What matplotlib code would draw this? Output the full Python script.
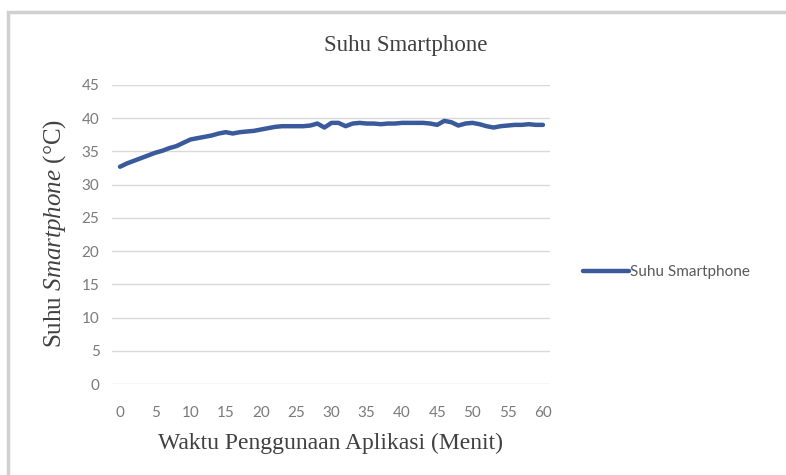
import matplotlib
matplotlib.use("Agg")
import matplotlib.pyplot as plt
from matplotlib.patches import Rectangle

# Data: suhu smartphone per menit
menit = list(range(0, 61))
suhu = [32.7, 33.2, 33.6, 34.0, 34.4, 34.8, 35.1, 35.5, 35.8, 36.3,
        36.8, 37.0, 37.2, 37.4, 37.7, 37.9, 37.7, 37.9, 38.0, 38.1,
        38.3, 38.5, 38.7, 38.8, 38.8, 38.8, 38.8, 38.9, 39.2, 38.6,
        39.3, 39.3, 38.8, 39.2, 39.3, 39.2, 39.2, 39.1, 39.2, 39.2,
        39.3, 39.3, 39.3, 39.3, 39.2, 39.0, 39.6, 39.4, 38.9, 39.2,
        39.3, 39.1, 38.8, 38.6, 38.8, 38.9, 39.0, 39.0, 39.1, 39.0,
        39.0]
x_ticks = list(range(0, 61, 5))
y_ticks = list(range(0, 46, 5))

SERIF = "Liberation Serif"
SANS = "Lato"
plt.rcParams["mathtext.fontset"] = "custom"
plt.rcParams["mathtext.rm"] = "Liberation Serif"
plt.rcParams["mathtext.it"] = "Liberation Serif:italic"

W, H = 786, 475
fig = plt.figure(figsize=(W / 100, H / 100), dpi=100)

# bingkai area grafik
fig.patches.append(Rectangle((8 / W, -0.1), 1.2, 1.1 - 12 / H, transform=fig.transFigure,
                             fill=False, edgecolor="#d0d0d0", linewidth=2.5))

ax = fig.add_axes([112 / W, 1 - 384 / H, (550 - 112) / W, (384 - 85) / H])
ax.plot(menit, suhu, color="#3a5a9c", linewidth=3.2, solid_capstyle="round",
        label="Suhu Smartphone")
ax.set_xlim(-1.13, 61.0)
ax.set_ylim(0, 45)
ax.set_xticks(x_ticks)
ax.set_yticks(y_ticks)
ax.grid(axis="y", color="#d9d9d9", linewidth=1)
ax.set_axisbelow(True)
for s in ax.spines.values():
    s.set_visible(False)
ax.tick_params(length=0, colors="#7a7a7a", labelsize=11)
ax.tick_params(axis="x", pad=16)
ax.tick_params(axis="y", pad=9)
for lbl in ax.get_xticklabels() + ax.get_yticklabels():
    lbl.set_family(SANS)

fig.text(406 / W, 1 - 45 / H, "Suhu Smartphone", ha="center", va="center",
         family=SERIF, fontsize=16.5, color="#404040")
fig.text(331 / W, 1 - 443 / H, "Waktu Penggunaan Aplikasi (Menit)", ha="center",
         va="center", family=SERIF, fontsize=17, color="#404040")
fig.text(55 / W, 1 - 234 / H, r"Suhu $\mathit{Smartphone}$ (°C)", rotation=90,
         ha="center", va="center", family=SERIF, fontsize=18, color="#404040")

fig.legend(loc="center left", bbox_to_anchor=(583 / W, 1 - 272 / H), frameon=False,
           handlelength=3.0, handletextpad=0.1, borderpad=0, borderaxespad=0,
           prop={"family": SANS, "size": 11}, labelcolor="#595959")

fig.savefig("out.png", dpi=100)
